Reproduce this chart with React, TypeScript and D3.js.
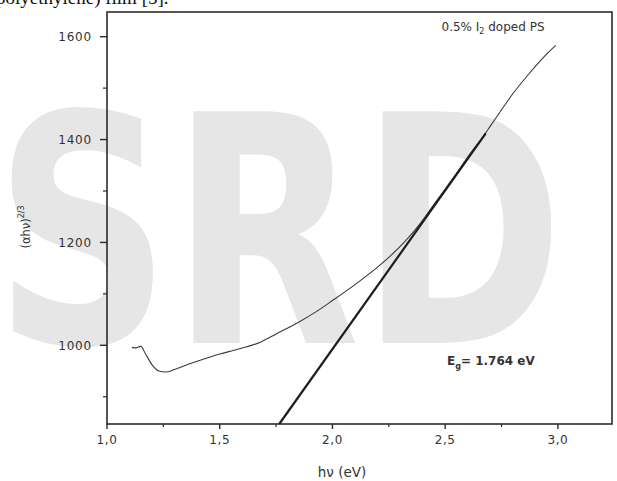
import { line, scaleLinear, curveMonotoneX } from 'd3'

const width = 617,
      height = 481

// measured curve (hv in eV, (alpha h v)^(2/3))
const hv = [1.11, 1.13, 1.15, 1.17, 1.20, 1.23, 1.26, 1.30, 1.36, 1.42, 1.50, 1.56, 1.62, 1.68,
            1.75, 1.85, 1.93, 2.00, 2.10, 2.20, 2.25, 2.32, 2.39, 2.46, 2.54, 2.62, 2.66, 2.70, 2.75,
            2.80, 2.87, 2.93, 2.99]
const absorb = [996, 995, 998, 984, 962, 950, 948, 953, 963, 972, 983, 990, 997, 1006,
                1022, 1045, 1066, 1087, 1118, 1152, 1171, 1201, 1237, 1280, 1328, 1378, 1401, 1426, 1458,
                1489, 1527, 1557, 1583]

// tangent (Tauc fit) end points
const fitX = [1.764, 2.68]
const fitY = [847, 1412]

const xMajor = [1.0, 1.5, 2.0, 2.5, 3.0]
const xMinor = [1.25, 1.75, 2.25, 2.75]
const xLabels = ['1,0', '1,5', '2,0', '2,5', '3,0']
const yMajor = [1000, 1200, 1400, 1600]
const yMinor = [900, 1100, 1300, 1500]

const axisColor = '#2b2b2b'
const font = 'DejaVu Sans, Liberation Sans, sans-serif'

export default function App() {
  const x = scaleLinear().domain([1.0, 3.24]).range([107, 612])
  const y = scaleLinear().domain([847, 1648]).range([424, 12])

  const curvePath = line<number>()
    .x(d => x(hv[d]))
    .y(d => y(absorb[d]))
    .curve(curveMonotoneX)(hv.map((_, i) => i))

  const fitPath = line<number>()
    .x(d => x(fitX[d]))
    .y(d => y(fitY[d]))([0, 1])

  const [x0, x1] = x.range()
  const [y0, y1] = y.range()

  return (
    <svg width={width} height={height} style={{ position: 'absolute', left: 0, top: 0, background: '#fff' }}>
      {/* scanned page leftovers */}
      <text x={-4} y={4} fontFamily='Liberation Serif, serif' fontSize={19} fill='#111'>
        polyethylene) film [5].
      </text>
      <text x={-6} y={343} fontFamily={font} fontWeight='bold' fontSize={318} fill='#e6e6e6'
            textLength={570} lengthAdjust='spacingAndGlyphs'>SRD</text>

      {/* frame */}
      <rect x={x0} y={y1} width={x1 - x0} height={y0 - y1} fill='none' stroke={axisColor} strokeWidth={1.6} />

      {/* x axis */}
      {xMajor.map((t, i) => (
        <g key={'xm' + t}>
          <line x1={x(t)} x2={x(t)} y1={y0} y2={y0 + 5} stroke={axisColor} strokeWidth={1.4} />
          <text x={x(t)} y={y0 + 20} textAnchor='middle' fontFamily={font} fontSize={12} letterSpacing={0.6} fill='#333'>
            {xLabels[i]}
          </text>
        </g>
      ))}
      {xMinor.map(t => (
        <line key={'xn' + t} x1={x(t)} x2={x(t)} y1={y0} y2={y0 + 3} stroke={axisColor} strokeWidth={1.2} />
      ))}

      {/* y axis */}
      {yMajor.map(t => (
        <g key={'ym' + t}>
          <line x1={x0 - 7} x2={x0} y1={y(t)} y2={y(t)} stroke={axisColor} strokeWidth={1.4} />
          <text x={x0 - 15} y={y(t) + 4.5} textAnchor='end' fontFamily={font} fontSize={12} letterSpacing={0.8} fill='#333'>
            {t}
          </text>
        </g>
      ))}
      {yMinor.map(t => (
        <line key={'yn' + t} x1={x0 - 4} x2={x0} y1={y(t)} y2={y(t)} stroke={axisColor} strokeWidth={1.2} />
      ))}

      {/* axis titles */}
      <text x={342} y={477} textAnchor='middle' fontFamily={font} fontSize={13.5} fill='#333'>hν (eV)</text>
      <text transform='translate(30, 227) rotate(-90)' textAnchor='middle' fontFamily={font} fontSize={11.5} fill='#333'>
        (αhν)<tspan dy={-6} fontSize={8}>2/3</tspan>
      </text>

      {/* data */}
      <path d={curvePath ?? ''} fill='none' stroke='#3a3a3a' strokeWidth={1.1} />
      <path d={fitPath ?? ''} fill='none' stroke='#1e1e1e' strokeWidth={2.2} />

      {/* annotations */}
      <text x={493} y={31} textAnchor='middle' fontFamily={font} fontSize={12} fill='#333'>
        0.5% I<tspan dy={3} fontSize={8}>2</tspan><tspan dy={-3}> doped PS</tspan>
      </text>
      <text x={447} y={365} fontFamily={font} fontSize={12} fontWeight='bold' fill='#333'>
        E<tspan dy={4} fontSize={8}>g</tspan><tspan dy={-4}>= 1.764 eV</tspan>
      </text>
    </svg>
  )
}
